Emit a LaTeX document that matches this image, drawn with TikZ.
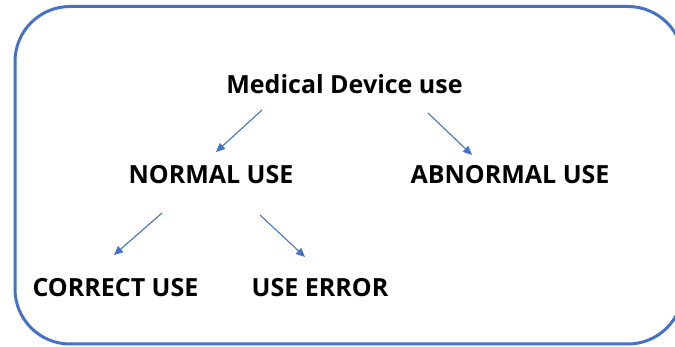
\documentclass[tikz,border=0pt]{standalone}
\usepackage{fontspec}
\setmainfont{Open Sans}
\usetikzlibrary{arrows.meta}
\definecolor{frameblue}{HTML}{4472C4}
\tikzset{
  label text/.style={font=\bfseries\fontsize{25}{29}\selectfont, inner sep=0pt, anchor=base},
  branch/.style={draw=frameblue, line width=1.1pt, -{Triangle[length=9pt,width=8pt]}},
}
\begin{document}
\begin{tikzpicture}[x=1pt,y=-1pt]
  \useasboundingbox (0,0) rectangle (675,347);
  \begin{scope}
    \clip (0,0) rectangle (675,347);
    \draw[frameblue, line width=3pt, rounded corners=55pt] (15,6.5) rectangle (683,344);
  \end{scope}

  \node[label text] (med)  at (344.5,94) {Medical Device use};
  \node[label text] (norm) at (211,184)  {NORMAL USE};
  \node[label text] (abn)  at (510,184)  {ABNORMAL USE};
  \node[label text] (corr) at (115.5,297) {CORRECT USE};
  \node[label text] (err)  at (320,297)  {USE ERROR};

  \draw[branch] ([shift={(-82.5,16)}]med.base) -- ([shift={(5,-32)}]norm.base);
  \draw[branch] ([shift={(83.5,19)}]med.base) -- ([shift={(-38,-29)}]abn.base);
  \draw[branch] ([shift={(-49,29)}]norm.base) -- ([shift={(-1.5,-42)}]corr.base);
  \draw[branch] ([shift={(49,31)}]norm.base) -- ([shift={(-15,-40)}]err.base);
\end{tikzpicture}
\end{document}
